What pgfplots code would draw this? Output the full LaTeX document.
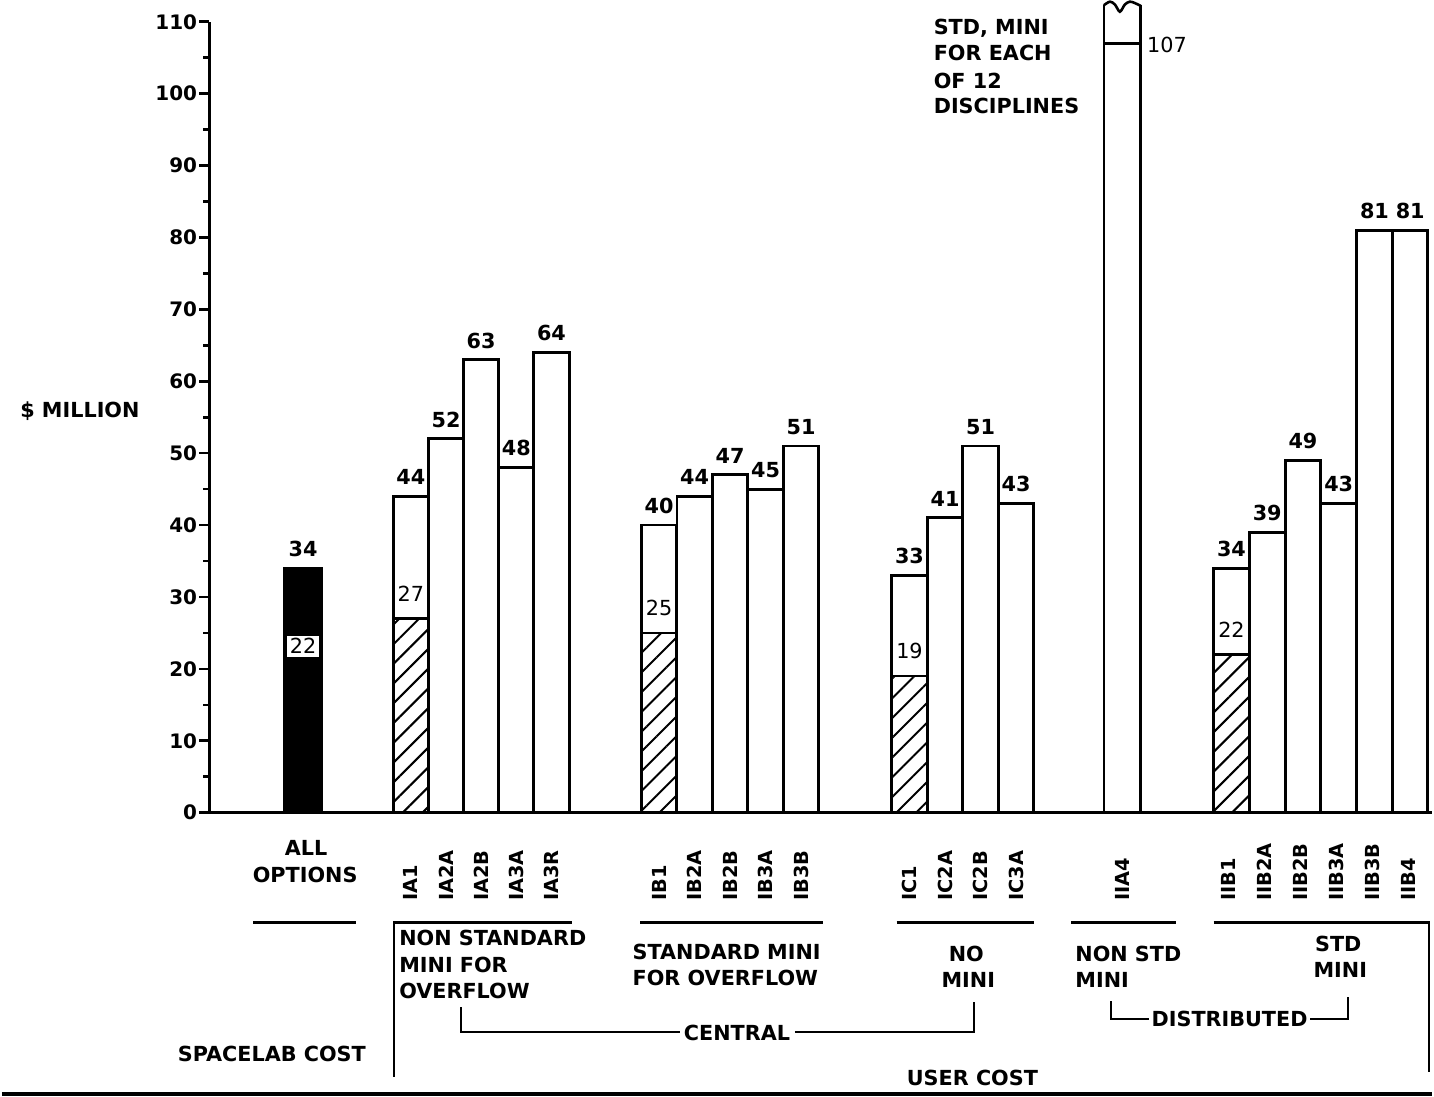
\documentclass[border=0pt]{standalone}
\usepackage{pgfplots}
\pgfplotsset{compat=1.18}
\usepackage{fontspec}
\setmainfont{DejaVu Sans}
\usetikzlibrary{patterns.meta}
\newcommand{\rl}[1]{\makebox[30pt][l]{#1}}
\newcommand{\bfn}{\bfseries\fontsize{10.4}{12}\selectfont}
\newcommand{\rgn}{\mdseries\fontsize{10.4}{12}\selectfont}
\newcommand{\dsn}{\bfseries\fontsize{10.4}{12}\selectfont}
\begin{document}
\begin{tikzpicture}
\begin{axis}[
  x=0.5pt, y=3.605pt,
  xmin=208, xmax=1434, ymin=0, ymax=110,
  axis x line=bottom, axis y line=left,
  axis line style={-, line width=1.5pt, black},
  clip=false,
  ytick={0,10,...,110},
  minor ytick={5,15,...,105},
  tick align=outside,
  major tick length=5pt, minor tick length=3pt,
  major tick style={line width=1.3pt, black},
  minor tick style={line width=1.3pt, black},
  /pgf/number format/assume math mode=true,
  yticklabel style={font=\bfseries\fontsize{10}{10}\selectfont, inner sep=1pt},
  xtick={410,445.25,480.5,515.75,551,659,694.6,730.2,765.8,801.4,910,945.7,981.3,1017,1123.5,1230,1266,1302,1338,1374,1410},
  xticklabels={\rl{IA1},\rl{IA2A},\rl{IA2B},\rl{IA3A},\rl{IA3R},\rl{IB1},\rl{IB2A},\rl{IB2B},\rl{IB3A},\rl{IB3B},\rl{IC1},\rl{IC2A},\rl{IC2B},\rl{IC3A},\rl{IIA4},\rl{IIB1},\rl{IIB2A},\rl{IIB2B},\rl{IIB3A},\rl{IIB3B},\rl{IIB4}},
  x tick style={draw=none},
  xticklabel style={rotate=90, anchor=east, inner sep=0pt, font=\bfseries\fontsize{9.7}{10}\selectfont},
  xticklabel shift=9pt,
  nodes near coords style={font=\bfn, inner sep=0pt, anchor=south, yshift=5pt},
]
% spacelab cost (all options)
\addplot[ybar, bar width=38, bar shift=0pt, draw=black, fill=black, line width=1.2pt, nodes near coords]
  coordinates {(302,34)};
% user cost bars
\addplot[ybar, bar width=35.5, bar shift=0pt, draw=black, fill=white, line width=1.4pt, nodes near coords]
  coordinates {(410,44) (445.25,52) (480.5,63) (515.75,48) (551,64)
               (659,40) (694.6,44) (730.2,47) (765.8,45) (801.4,51)
               (910,33) (945.7,41) (981.3,51) (1017,43)
               (1232.9,34) (1268.75,39) (1304.6,49) (1340.4,43) (1376.25,81) (1412.1,81)};
% hatched share
\addplot[ybar, bar width=35.5, bar shift=0pt, draw=black, line width=1.4pt,
  pattern={Lines[angle=45,distance=7pt,line width=1pt]},
  nodes near coords, nodes near coords style={font=\rgn, yshift=3pt}]
  coordinates {(410,27) (659,25) (910,19) (1232.9,22)};
% IIA4, broken bar
\addplot[ybar, bar width=37, bar shift=0pt, draw=black, fill=white, line width=1.4pt]
  coordinates {(1123.5,112.2)};
\addplot[ybar, bar width=37, bar shift=0pt, draw=black, fill=white, line width=1.4pt]
  coordinates {(1123.5,107)};
\fill[white] (1106.5,111.0) rectangle (1140.5,113.0);
\draw[line width=1.3pt, smooth] plot coordinates {(1105,112.3) (1111,112.8) (1116,112.4) (1121,111.4) (1126,112.4) (1131,112.8) (1136,112.6) (1142,112.2)};
\node[font=\rgn, anchor=base west, inner sep=0pt] at (1148,105.76) {107};
\node[font=\rgn, fill=white, inner sep=1.5pt, anchor=south] at (302,21.6) {22};

% texts in the plot
\node[font=\bfn, anchor=base west, inner sep=0pt] at (18,54.99) {\$ MILLION};
\node[font=\bfn, anchor=base west, inner sep=0pt] at (934,108.25) {STD, MINI};
\node[font=\bfn, anchor=base west, inner sep=0pt] at (934,104.65) {FOR EACH};
\node[font=\bfn, anchor=base west, inner sep=0pt] at (934,100.69) {OF 12};
\node[font=\bfn, anchor=base west, inner sep=0pt] at (934,97.30) {DISCIPLINES};

% below the axis
\node[font=\bfn, anchor=base, inner sep=0pt] at (305,-5.89) {ALL};
\node[font=\bfn, anchor=base, inner sep=0pt] at (304,-9.78) {OPTIONS};

\draw[line width=1.5pt] (252,-15.3) -- (355,-15.3);
\draw[line width=1.3pt] (393,-36.75) -- (393,-15.3) -- (572,-15.3);
\draw[line width=1.5pt] (640,-15.3) -- (823,-15.3);
\draw[line width=1.5pt] (897,-15.3) -- (1035,-15.3);
\draw[line width=1.5pt] (1072,-15.3) -- (1177,-15.3);
\draw[line width=1.3pt] (1215,-15.3) -- (1431,-15.3) -- (1431,-36.06);

\node[font=\dsn, anchor=base west, inner sep=0pt] at (398,-18.45) {NON STANDARD};
\node[font=\dsn, anchor=base west, inner sep=0pt] at (398,-22.19) {MINI FOR};
\node[font=\dsn, anchor=base west, inner sep=0pt] at (398,-25.80) {OVERFLOW};
\node[font=\dsn, anchor=base west, inner sep=0pt] at (632,-20.46) {STANDARD MINI};
\node[font=\dsn, anchor=base west, inner sep=0pt] at (632,-24.06) {FOR OVERFLOW};
\node[font=\dsn, anchor=base, inner sep=0pt] at (967,-20.74) {NO};
\node[font=\dsn, anchor=base, inner sep=0pt] at (969,-24.34) {MINI};
\node[font=\dsn, anchor=base west, inner sep=0pt] at (1076,-20.74) {NON STD};
\node[font=\dsn, anchor=base west, inner sep=0pt] at (1076,-24.34) {MINI};
\node[font=\dsn, anchor=base, inner sep=0pt] at (1340,-19.35) {STD};
\node[font=\dsn, anchor=base, inner sep=0pt] at (1342,-22.95) {MINI};

\draw[line width=1.1pt] (460,-27.05) -- (460,-30.51) -- (680,-30.51);
\node[font=\dsn, anchor=base, inner sep=0pt] at (737,-31.62) {CENTRAL};
\draw[line width=1.1pt] (795,-30.51) -- (975,-30.51) -- (975,-26.35);
\draw[line width=1.1pt] (1112,-26.2) -- (1112,-28.71) -- (1150,-28.71);
\node[font=\dsn, anchor=base, inner sep=0pt] at (1231,-29.75) {DISTRIBUTED};
\draw[line width=1.1pt] (1312,-28.71) -- (1350,-28.71) -- (1350,-25.66);

\node[font=\bfn, anchor=base west, inner sep=0pt] at (176,-34.6) {SPACELAB COST};
\node[font=\bfn, anchor=base west, inner sep=0pt] at (907,-37.93) {USER COST};
\draw[line width=2pt] (0,-39.11) -- (1434,-39.11);

\path (0,-39.53) rectangle (1434,113.03);
\end{axis}
\end{tikzpicture}
\end{document}
